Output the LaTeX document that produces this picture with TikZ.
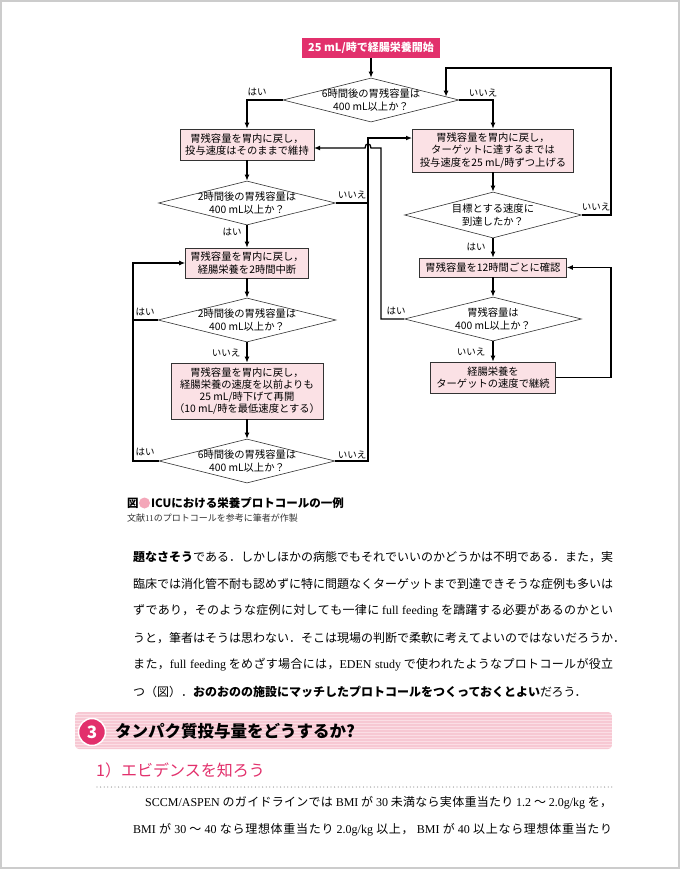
\documentclass[tikz,border=0pt]{standalone}
\usepackage{fontspec}
\setmainfont{Noto Sans CJK JP}
\newfontfamily\lat{Liberation Serif}
\usetikzlibrary{shapes.geometric,arrows.meta,calc}
% inter-character stretch for justified Japanese lines
\count255="3000
\loop \XeTeXcharclass\count255=1 \advance\count255 by 1 \ifnum\count255<"A000 \repeat
\count255="FF00
\loop \XeTeXcharclass\count255=1 \advance\count255 by 1 \ifnum\count255<"FFF0 \repeat
\XeTeXinterchartoks 1 1 = {\hskip 0pt plus 1pt\relax}
\newcommand\jpjust{\XeTeXinterchartokenstate=1\relax}
\newcommand\jline[2]{\makebox[#1][s]{\jpjust #2}}
\newcommand\latsp{\hspace{2.5pt plus 1pt minus 1pt}}
\newcommand\latw[1]{\latsp{\lat\fontsize{12}{14}\selectfont #1}\latsp}
\newcommand\latn[1]{{\lat\fontsize{12}{14}\selectfont #1}\latsp}
\definecolor{mag}{HTML}{E2306C}
\definecolor{boxpink}{HTML}{FBE1E5}
\definecolor{capink}{HTML}{F4A7B9}
\definecolor{stripeA}{HTML}{FBDEE5}
\definecolor{stripeB}{HTML}{F7C8D3}
\definecolor{framegray}{HTML}{CCCCCC}
\tikzset{
  pbox/.style={draw=black!80, line width=0.6pt, fill=boxpink, inner sep=0pt, font=\fontsize{10.3}{12.3}\selectfont, align=center},
  dia/.style={draw=black!80, line width=0.6pt, fill=white, shape=diamond, inner sep=0pt},
  dtext/.style={font=\fontsize{10.3}{12.3}\selectfont, align=center},
  arr/.style={line width=1.3pt, -{Latex[length=6pt,width=5pt]}},
  ln/.style={line width=1.3pt},
  lab/.style={font=\fontsize{9.5}{11}\selectfont, inner sep=0pt},
  bodyline/.style={anchor=west, inner sep=0pt, font=\fontsize{12}{14}\selectfont},
}
\begin{document}
\begin{tikzpicture}[x=1pt,y=-1pt]
\useasboundingbox (0,0) rectangle (680,870);
\fill[white] (0,0) rectangle (680,870);
\draw[framegray, line width=2pt] (1,1) rectangle (679,868);

% ---------- flowchart nodes ----------
\node[fill=mag, text=white, inner sep=0pt, minimum width=138pt, minimum height=20pt, font=\bfseries\fontsize{11}{13}\selectfont] (st) at (371,48) {25 mL/時で経腸栄養開始};

\node[dia, minimum width=176pt, minimum height=44pt] (d1) at (371,100) {};
\node[dtext] (t1) at (d1) {6時間後の胃残容量は\\400 mL以上か？};

\node[pbox, minimum width=134pt, minimum height=31pt] (b1) at (247,144.5) {胃残容量を胃内に戻し，\\投与速度はそのままで維持};
\node[pbox, minimum width=161pt, minimum height=43pt] (b2) at (493,150.5) {胃残容量を胃内に戻し，\\ターゲットに達するまでは\\投与速度を25 mL/時ずつ上げる};

\node[dia, minimum width=177pt, minimum height=44pt] (d2) at (247,203) {};
\node[dtext] (t2) at (d2) {2時間後の胃残容量は\\400 mL以上か？};

\node[pbox, minimum width=123pt, minimum height=30pt] (b3) at (247,263) {胃残容量を胃内に戻し，\\経腸栄養を2時間中断};

\node[dia, minimum width=178pt, minimum height=44pt] (d3) at (247,320) {};
\node[dtext] (t3) at (d3) {2時間後の胃残容量は\\400 mL以上か？};

\node[pbox, minimum width=152pt, minimum height=56pt] (b4) at (247,391) {胃残容量を胃内に戻し，\\経腸栄養の速度を以前よりも\\25 mL/時下げて再開\\（10 mL/時を最低速度とする）};

\node[dia, minimum width=176pt, minimum height=44pt] (d5) at (247,461) {};
\node[dtext] (t5) at (d5) {6時間後の胃残容量は\\400 mL以上か？};

\node[dia, minimum width=177pt, minimum height=46pt] (d6) at (493,215) {};
\node[dtext] (t6) at (d6) {目標とする速度に\\到達したか？};

\node[pbox, minimum width=147pt, minimum height=19pt] (b5) at (493,267.5) {胃残容量を12時間ごとに確認};

\node[dia, minimum width=177pt, minimum height=44pt] (d4) at (493,319) {};
\node[dtext] (t4) at (d4) {胃残容量は\\400 mL以上か？};

\node[pbox, minimum width=125pt, minimum height=31pt] (b6) at (493,377.5) {経腸栄養を\\ターゲットの速度で継続};

% ---------- helper coordinates ----------
\coordinate (lx) at (133,0);
\coordinate (rx) at (368,0);
\coordinate (rx2) at (381,0);
\coordinate (rr) at (611,0);
\coordinate (topy) at (0,68);
\coordinate (b2in) at (412,138);
\coordinate (b1in) at (314,148);
\coordinate (d1ne) at ($(d1.north)!0.85!(d1.east)$);

% ---------- connectors ----------
\draw[arr] (st.south) -- (d1.north);
\draw[arr] (d1.west) -| (b1.north);
\draw[arr] (d1.east) -| (b2.north);
\draw[arr] (b1.south) -- (d2.north);
\draw[arr] (d2.south) -- (b3.north);
\draw[arr] (b3.south) -- (d3.north);
\draw[arr] (d3.south) -- (b4.north);
\draw[arr] (b4.south) -- (d5.north);
\draw[arr] (b2.south) -- (d6.north);
\draw[arr] (d6.south) -- (b5.north);
\draw[arr] (b5.south) -- (d4.north);
\draw[arr] (d4.south) -- (b6.north);

% left loop (はい) back to b3
\draw[arr] (d3.west) -- (d3.west -| lx) |- (b3.west);
\draw[ln] (d5.west) -- (d5.west -| lx) -- (d3.west -| lx);

% right loop (いいえ) to b2
\draw[arr] (d5.east) -- (d5.east -| rx) -- (rx |- b2in) -- (b2in);
\draw[ln] (d2.east) -- (d2.east -| rx);

% d4 はい back to b1, hopping over x=368 line
\draw[arr] (d4.west) -- (d4.west -| rx2) -- (rx2 |- b1in) -- (371,148) .. controls (371,142.5) and (365,142.5) .. (365,148) -- (b1in);

% d6 いいえ back to d1
\draw[arr] (d6.east) -- (d6.east -| rr) -- (rr |- topy) -- (d1ne |- topy) -- (d1ne);

% b6 back to b5
\draw[arr] (b6.east) -- (b6.east -| rr) |- (b5.east);

% ---------- labels ----------
\node[lab] (l1) at (257,92) {はい};
\node[lab] (l2) at (483,93) {いいえ};
\node[lab] (l3) at (352,195) {いいえ};
\node[lab] (l4) at (232,232) {はい};
\node[lab] (l5) at (145,312) {はい};
\node[lab] (l6) at (226,353) {いいえ};
\node[lab] (l7) at (145,452) {はい};
\node[lab] (l8) at (352,455) {いいえ};
\node[lab] (l9) at (596,207) {いいえ};
\node[lab] (l10) at (476,247) {はい};
\node[lab] (l11) at (396,311) {はい};
\node[lab] (l12) at (471,352) {いいえ};

% ---------- caption ----------
\node[anchor=west, inner sep=0pt, font=\bfseries\fontsize{11.5}{13}\selectfont] (cap1) at (127,503) {図};
\fill[capink] (144.5,503) circle (5.5pt);
\node[anchor=west, inner sep=0pt, font=\bfseries\fontsize{11.5}{13}\selectfont] (cap2) at (151,503) {ICUにおける栄養プロトコールの一例};
\node[anchor=west, inner sep=0pt, text=black!80, font=\fontsize{9}{11}\selectfont] (cap3) at (127,518) {文献{\lat 11}のプロトコールを参考に筆者が作製};

% ---------- body paragraph ----------
\node[bodyline] (p1) at (133,557) {\jline{480pt}{{\bfseries 題なさそう}である．しかしほかの病態でもそれでいいのかどうかは不明である．また，実}};
\node[bodyline] (p2) at (133,584) {\jline{480pt}{臨床では消化管不耐も認めずに特に問題なくターゲットまで到達できそうな症例も多いは}};
\node[bodyline] (p3) at (133,611) {\jline{480pt}{ずであり，そのような症例に対しても一律に\latw{full feeding}を躊躇する必要があるのかとい}};
\node[bodyline] (p4) at (133,638) {\jline{480pt}{うと，筆者はそうは思わない．そこは現場の判断で柔軟に考えてよいのではないだろうか．}};
\node[bodyline] (p5) at (133,665) {\jline{480pt}{また，\latn{full feeding}をめざす場合には，\latn{EDEN study}で使われたようなプロトコールが役立}};
\node[bodyline] (p6) at (133,692) {つ（図）．{\bfseries おのおのの施設にマッチしたプロトコールをつくっておくとよい}だろう．};

% ---------- section heading ----------
\begin{scope}
  \clip[rounded corners=4pt] (75,712) rectangle (612,749);
  \fill[stripeA] (75,712) rectangle (612,749);
  \foreach \yy in {713,716,...,749} { \draw[stripeB, line width=1.2pt] (75,\yy) -- (612,\yy); }
\end{scope}
\node[circle, fill=mag, draw=white, line width=1.5pt, minimum size=27pt, inner sep=0pt, text=white, font=\bfseries\fontsize{17}{19}\selectfont] (n3) at (92,732) {3};
\node[anchor=west, inner sep=0pt, font=\bfseries\fontsize{16.5}{19}\selectfont] (h3) at (115,731) {タンパク質投与量をどうするか?};

\node[anchor=west, inner sep=0pt, text=mag, font=\fontsize{16}{18}\selectfont] (h31) at (96,770) {1）エビデンスを知ろう};
\coordinate (dl) at (97,787);
\coordinate (dr) at (612,787);
\draw[black!40, line width=1.3pt, line cap=round, dash pattern=on 0pt off 3.6pt] (dl) -- (dr);

% ---------- second paragraph ----------
\node[bodyline] (q1) at (145,803) {\jline{467pt}{\latn{SCCM/ASPEN}のガイドラインでは\latw{BMI}が\latw{30}未満なら実体重当たり\latw{1.2}～\latw{2.0g/kg}を，}};
\node[bodyline] (q2) at (133,830) {\jline{479pt}{\latn{BMI}が\latw{30}～\latw{40}なら理想体重当たり\latw{2.0g/kg}以上，\latw{BMI}が\latw{40}以上なら理想体重当たり}};
\end{tikzpicture}
\end{document}
